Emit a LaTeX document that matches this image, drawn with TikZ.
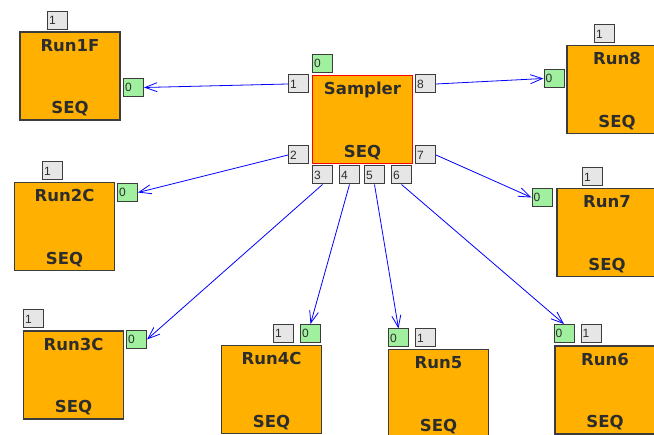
\documentclass[tikz,border=0pt]{standalone}
\usepackage{fontspec}
\setmainfont{DejaVu Sans}
\newfontfamily\portfont{Liberation Sans}
\usetikzlibrary{arrows.meta}
\definecolor{seqorange}{RGB}{255,176,0}
\definecolor{ingreen}{RGB}{160,240,160}
\definecolor{portgray}{RGB}{230,230,230}
\definecolor{edgegray}{RGB}{60,60,60}
\definecolor{textgray}{RGB}{45,45,45}
\definecolor{linkblue}{RGB}{0,0,255}

\begin{document}
\begin{tikzpicture}[x=1pt,y=-1pt,
  seq box/.style={rectangle,draw=edgegray,fill=seqorange,line width=1.2pt,
    minimum width=100pt,minimum height=88pt,inner sep=0pt},
  title/.style={font=\bfseries\fontsize{16.5}{18}\selectfont,text=textgray,
    anchor=base,inner sep=0pt},
  port/.style={rectangle,draw=edgegray,line width=1pt,minimum height=18pt,
    inner xsep=1.5pt,inner ysep=0pt,text width=17pt,align=left,
    font=\portfont\fontsize{12}{12}\selectfont,text=textgray},
  out port/.style={port,fill=portgray},
  in port/.style={port,fill=ingreen},
  link/.style={draw=linkblue,line width=0.8pt,
    -{Straight Barb[length=12pt,width=9pt]}}]
  \useasboundingbox (0,0) rectangle (654,435);

  % the sequence blocks
  \foreach \n/\x/\y/\t in {run1f/70/76/Run1F, run2c/64.5/226.5/Run2C,
      run3c/73.5/375/Run3C, run4c/271.5/389.5/Run4C, run5/438.5/393.5/Run5,
      run6/605/390/Run6, run7/607/232.5/Run7, run8/617/89.5/Run8}{
    \node[seq box] (\n) at (\x,\y) {};
    \node[title] (\n-title) at ([yshift=-20pt]\n.north) {\t};
    \node[title] (\n-seq) at ([yshift=7pt]\n.south) {SEQ};
  }
  \node[seq box,draw=red] (sampler) at (362.5,119.5) {};
  \node[title] (sampler-title) at ([yshift=-20pt]sampler.north) {Sampler};
  \node[title] (sampler-seq) at ([yshift=7pt]sampler.south) {SEQ};

  % ports of the sampler
  \node[in port] (sampler-in) at (322.5,63.5) {0};
  \node[out port] (sampler-1) at (298.5,84) {1};
  \node[out port] (sampler-8) at (425.5,84) {8};
  \node[out port] (sampler-2) at (298.5,155) {2};
  \node[out port] (sampler-7) at (425.5,155) {7};
  \node[out port] (sampler-3) at (322.5,175) {3};
  \node[out port] (sampler-4) at (349.5,175) {4};
  \node[out port] (sampler-5) at (374.5,175) {5};
  \node[out port] (sampler-6) at (401.5,175) {6};

  % ports of the runs
  \node[out port] (run1f-out) at (57.5,20.5) {1};
  \node[in port] (run1f-in) at (133.5,87.5) {0};
  \node[out port] (run8-out) at (604.5,34) {1};
  \node[in port] (run8-in) at (554,78.5) {0};
  \node[out port] (run2c-out) at (52.5,171) {1};
  \node[in port] (run2c-in) at (127.5,192.5) {0};
  \node[out port] (run7-out) at (592.5,177) {1};
  \node[in port] (run7-in) at (542,197.5) {0};
  \node[out port] (run3c-out) at (33.5,319) {1};
  \node[in port] (run3c-in) at (136.5,339.5) {0};
  \node[out port] (run4c-out) at (283.5,333.5) {1};
  \node[in port] (run4c-in) at (310.5,333.5) {0};
  \node[in port] (run5-in) at (398.5,338) {0};
  \node[out port] (run5-out) at (425.5,338) {1};
  \node[in port] (run6-in) at (564,333.5) {0};
  \node[out port] (run6-out) at (591,333.5) {1};

  \draw[link] (sampler-1.west) -- (run1f-in.east);
  \draw[link] (sampler-8.east) -- (run8-in.west);
  \draw[link] (sampler-2.west) -- (run2c-in.east);
  \draw[link] (sampler-7.east) -- (run7-in.west);
  \draw[link] (sampler-3.south) -- (run3c-in.east);
  \draw[link] (sampler-4.south) -- (run4c-in.north);
  \draw[link] (sampler-5.south) -- (run5-in.north);
  \draw[link] (sampler-6.south) -- (run6-in.north);
\end{tikzpicture}
\end{document}
